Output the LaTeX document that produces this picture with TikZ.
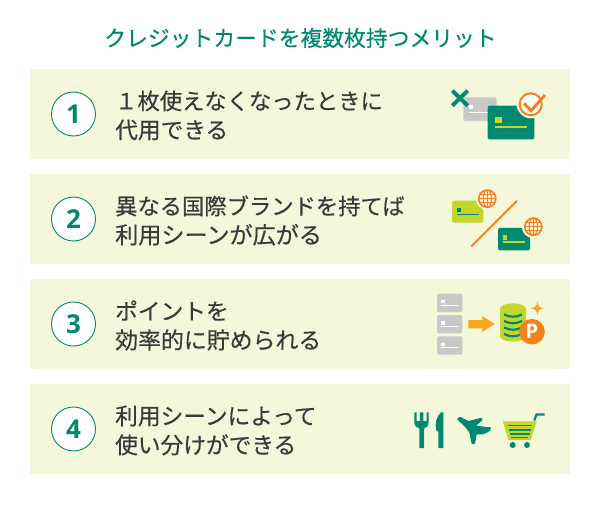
\documentclass[tikz,border=0pt]{standalone}
\usepackage{fontspec}
\setmainfont[FakeBold=0.35]{Noto Sans CJK JP}
\newfontfamily\numfont{Open Sans}
\definecolor{panelbg}{HTML}{F4F7DA}
\definecolor{teal}{HTML}{00896F}
\definecolor{lime}{HTML}{C4D52B}
\definecolor{orangeic}{HTML}{F5801E}
\definecolor{amberic}{HTML}{F9A61C}
\definecolor{greycard}{HTML}{C8C8C8}
\definecolor{inktext}{HTML}{3A3A3A}
\tikzset{
	panel/.style={fill=panelbg,minimum width=540pt,minimum height=90pt,inner sep=0pt},
	numcircle/.style={circle,draw=teal,line width=0.9pt,fill=white,minimum size=44pt,inner sep=0pt,text=teal,font=\numfont\bfseries\fontsize{26}{26}\selectfont},
	rowtext/.style={anchor=west,align=left,inner sep=0pt,text=inktext,font=\fontsize{22.7}{29}\selectfont},
	titletext/.style={inner sep=0pt,text=teal,font=\fontsize{21.8}{26}\selectfont},
	cardline/.style={line width=1.25pt},
	globeline/.style={draw=orangeic,line width=1pt}
}
\newcommand{\linesize}[1]{\fontsize{#1}{29}\selectfont}
\newcommand{\globeicon}[2]{
	\fill[panelbg] (#1,#2) circle (11.5pt);
	\draw[orangeic,line width=1.6pt] (#1,#2) circle (8.6pt);
	\draw[globeline] (#1,#2) ellipse (4.2pt and 8.6pt);
	\draw[globeline] (#1,#2-8.6) -- (#1,#2+8.6);
	\draw[globeline] (#1-8.6,#2) -- (#1+8.6,#2);
	\draw[globeline] (#1-7.4,#2-4.2) -- (#1+7.4,#2-4.2);
	\draw[globeline] (#1-7.4,#2+4.2) -- (#1+7.4,#2+4.2);
}
\newcommand{\greycard}[1]{
	\fill[greycard,rounded corners=1.5pt] (437,#1) rectangle (462.3,#1+18.4);
	\fill[white] (441.3,#1+6.3) rectangle (444.7,#1+9.6);
	\fill[white] (441.3,#1+11) rectangle (458.3,#1+12);
}
\begin{document}
\begin{tikzpicture}[x=1pt,y=-1pt]
	\useasboundingbox (0,0) rectangle (600,505);
	\fill[white] (0,0) rectangle (600,505);
	\node (title) [titletext] at (300.5,38) {クレジットカードを複数枚持つメリット};
	\node (row1) [panel] at (300,114) {};
	\node (row2) [panel] at (300,219) {};
	\node (row3) [panel] at (300,324) {};
	\node (row4) [panel] at (300,429) {};
	\node (num1) [numcircle] at (73.5,114) {1};
	\node (num2) [numcircle] at (73.5,219) {2};
	\node (num3) [numcircle] at (73.5,324) {3};
	\node (num4) [numcircle] at (73.5,429) {4};
	\node (text1) [rowtext] at (115,115.5) {\linesize{22.3}１枚使えなくなったときに\\代用できる};
	\node (text2) [rowtext] at (115,220.5) {\linesize{22.3}異なる国際ブランドを持てば\\\linesize{23.1}利用シーンが広がる};
	\node (text3) [rowtext] at (115,325.5) {ポイントを\\\linesize{22.9}効率的に貯められる};
	\node (text4) [rowtext] at (115,430.5) {利用シーンによって\\使い分けができる};
	% icon 1
	\fill[greycard,rounded corners=1.5pt] (463.3,97.3) rectangle (496.7,121);
	\fill[white] (469,105) rectangle (473.3,109.3);
	\fill[white] (469,111.7) rectangle (488,113.3);
	\draw[teal,line width=4pt] (452.3,90.7) -- (467.7,105.7) (467.7,90.7) -- (452.3,105.7);
	\fill[teal,rounded corners=2pt] (487.7,105.7) rectangle (534.3,139.3);
	\fill[lime] (495.3,117) rectangle (501.7,122.7);
	\fill[lime] (495.3,125.7) rectangle (527.3,128);
	\fill[panelbg] (530.7,104.3) circle (14pt);
	\draw[orangeic,line width=2pt,fill=white] (530.7,104.3) circle (11pt);
	\draw[orangeic,line width=3pt] (524,103.3) -- (531,110.7) -- (545,95);
	% icon 2
	\fill[lime,rounded corners=1.5pt] (452,200.7) rectangle (483.3,222.7);
	\fill[teal] (457,208) rectangle (461,212);
	\fill[teal] (456.7,213.7) rectangle (478.7,215.3);
	\globeicon{487.3}{198.7}
	\draw[orangeic,line width=1.9pt,line cap=round] (471.7,246) -- (516.7,201);
	\fill[teal,rounded corners=1.5pt] (498,228) rectangle (530,250.3);
	\fill[lime] (503.3,235.3) rectangle (507.3,239.7);
	\fill[lime] (503,241) rectangle (525,242.7);
	\globeicon{533.3}{226.7}
	% icon 3
	\greycard{293.7}
	\greycard{315}
	\greycard{336.3}
	\fill[amberic] (468.3,320) -- (482.3,320) -- (482.3,316) -- (494.7,324) -- (482.3,332) -- (482.3,328.3) -- (468.3,328.3) -- cycle;
	\fill[lime] (500,309) .. controls (500,301.5) and (526,301.5) .. (526,309) -- (526,336) .. controls (526,343.5) and (500,343.5) .. (500,336) -- cycle;
	\foreach \sy in {314.5,321,327.5,334}
		\draw[teal,line width=2.2pt] (504,\sy) .. controls (510,\sy+3) and (516,\sy+3) .. (522,\sy);
	\fill[orangeic] (532,331.7) circle (12.8pt);
	\node (pmark) [inner sep=0pt,text=white,font=\numfont\bfseries\fontsize{20}{20}\selectfont] at (532,331.7) {P};
	\fill[amberic] (537.3,301.3) .. controls (537.8,306) and (539.5,307.8) .. (544,308.3) .. controls (539.5,308.8) and (537.8,310.5) .. (537.3,315.3) .. controls (536.8,310.5) and (535,308.8) .. (530.6,308.3) .. controls (535,307.8) and (536.8,306) .. (537.3,301.3) -- cycle;
	% icon 4
	\fill[teal] (414.3,412.3) -- (416.6,412.3) -- (416.6,421) -- (419.9,421) -- (419.9,412.3) -- (423.4,412.3) -- (423.4,421) -- (426.5,421) -- (426.5,412.3) -- (428.7,412.3) -- (428.7,422) .. controls (428.7,426) and (426,428) .. (424,428.5) -- (424,448) -- (419.3,448) -- (419.3,428.5) .. controls (417,428) and (414.3,426) .. (414.3,422) -- cycle;
	\fill[teal] (441,412.3) -- (443.4,412.3) -- (443.4,448) -- (438.4,448) -- (438.4,432) -- (436,430) .. controls (435,424) and (436,417) .. (441,412.3) -- cycle;
	\fill[teal,rounded corners=0.8pt] (456.7,419) -- (460,416.7) -- (468.3,421) -- (481.7,417.7) -- (482.7,420) -- (476,425.7) -- (486.7,427) -- (491,427.3) -- (490,431) -- (483.3,434.3) -- (476.7,434.3) -- (475,444) -- (471.7,444) -- (469.3,432.3) -- (465,426.7) -- cycle;
	\fill[lime] (503,421.3) -- (536.7,421.3) -- (530.7,440) -- (508.3,440) -- cycle;
	\draw[teal,cardline] (508.3,425.7) -- (531.7,425.7) (509.3,430) -- (530.7,430) (510,434) -- (530,434) (510.7,437.7) -- (528.3,437.7);
	\draw[teal,line width=2.2pt] (534.3,420.5) -- (536.5,414.5) -- (544.5,414.5);
	\fill[teal] (512.7,445) circle (3pt) (527,445) circle (3pt);
\end{tikzpicture}
\end{document}
